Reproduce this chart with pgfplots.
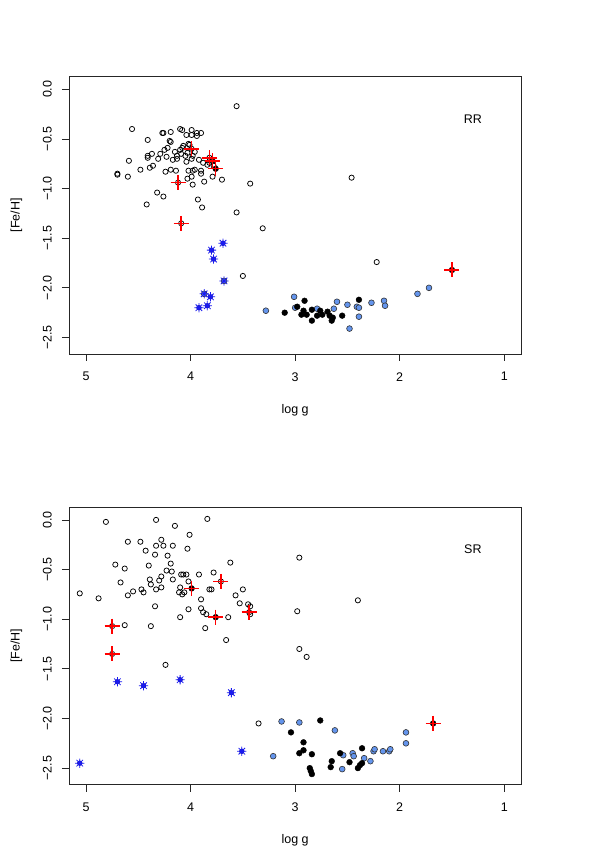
\documentclass[border=0pt]{standalone}
\usepackage{fontspec}
\setmainfont{Liberation Sans}
\usepackage{pgfplots}
\pgfplotsset{compat=1.18}
\definecolor{cCorn}{HTML}{6495ED}
\definecolor{cStar}{HTML}{1A1AF0}

% R-style asterisk (pch = 8): plus and cross together
\pgfdeclareplotmark{rstar}{%
  \pgfpathmoveto{\pgfpoint{-\pgfplotmarksize}{0pt}}%
  \pgfpathlineto{\pgfpoint{\pgfplotmarksize}{0pt}}%
  \pgfpathmoveto{\pgfpoint{0pt}{-\pgfplotmarksize}}%
  \pgfpathlineto{\pgfpoint{0pt}{\pgfplotmarksize}}%
  \pgfpathmoveto{\pgfpoint{-0.707\pgfplotmarksize}{-0.707\pgfplotmarksize}}%
  \pgfpathlineto{\pgfpoint{0.707\pgfplotmarksize}{0.707\pgfplotmarksize}}%
  \pgfpathmoveto{\pgfpoint{-0.707\pgfplotmarksize}{0.707\pgfplotmarksize}}%
  \pgfpathlineto{\pgfpoint{0.707\pgfplotmarksize}{-0.707\pgfplotmarksize}}%
  \pgfusepathqstroke}

\newcommand{\rfont}{\fontsize{12.5}{15}\selectfont}

\pgfplotsset{
  rpanel/.style={
    scale only axis,
    width=452.3pt, height=277.3pt,
    x dir=reverse,
    xmin=0.837, xmax=5.163,
    ymin=-2.666, ymax=0.127,
    clip=false,
    xtick={1,2,3,4,5},
    xticklabels={1,2,3,4,5},
    ytick={-2.5,-2,-1.5,-1,-0.5,0},
    yticklabels={−2.5,−2.0,−1.5,−1.0,−0.5,0.0},
    /pgf/number format/assume math mode=true,
    tick align=outside, tick pos=left,
    major tick length=7pt,
    axis line style={black!85, line width=0.8pt},
    every tick/.style={black!85, line width=0.8pt},
    tick label style={font=\rfont},
    label style={font=\rfont},
    xticklabel shift=7pt,
    yticklabel shift=6pt,
    yticklabel style={rotate=90, anchor=south},
    xlabel={log g}, ylabel={[Fe/H]},
    every axis x label/.style={at={(axis description cs:0.5,-0.165)}, anchor=north},
    every axis y label/.style={at={(axis description cs:-0.1161,0.5)}, anchor=center, rotate=90},
  },
  opencirc/.style={only marks, black, mark=o, mark size=2.6pt, mark options={black, line width=0.75pt}},
  blackcirc/.style={only marks, black, mark=*, mark size=2.9pt, mark options={black, fill=black}},
  bluecirc/.style={only marks, black, mark=*, mark size=2.9pt, mark options={draw=black!80, fill=cCorn, line width=0.6pt}},
  starcore/.style={only marks, cStar, mark=*, mark size=2.4pt, mark options={draw=cStar!70!black, fill=cStar, line width=0.5pt}},
  starmark/.style={only marks, cStar, line width=0.8pt, mark=rstar, mark size=4.6pt, mark options={draw=cStar, line width=0.8pt}},
  redplus/.style={only marks, red, line width=1.5pt, mark=+, mark size=7.5pt, mark options={draw=red, line width=1.5pt}},
}

\begin{document}
\rfont
\begin{tikzpicture}[x=1pt, y=1pt, font=\rfont]
\useasboundingbox (0,0) rectangle (598,862);

% ---------------- top panel (RR) ----------------
\begin{axis}[rpanel, at={(69pt,508pt)}, anchor=south west]
\addplot[opencirc] table {
3.56 -0.17
4.56 -0.40
4.41 -0.51
4.59 -0.72
4.70 -0.85
4.70 -0.86
4.60 -0.88
4.48 -0.81
4.41 -0.67
4.41 -0.69
4.37 -0.65
4.39 -0.79
4.36 -0.77
4.31 -0.70
4.27 -0.44
4.26 -0.44
4.19 -0.43
4.20 -0.52
4.19 -0.53
4.29 -0.65
4.25 -0.61
4.22 -0.59
4.23 -0.68
4.17 -0.71
4.13 -0.70
4.15 -0.63
4.24 -0.83
4.19 -0.81
4.14 -0.82
4.32 -1.04
4.26 -1.08
4.42 -1.16
4.10 -0.40
4.08 -0.41
4.04 -0.46
3.99 -0.41
3.94 -0.44
3.90 -0.44
3.94 -0.47
3.99 -0.46
4.02 -0.55
4.01 -0.56
4.07 -0.57
4.08 -0.59
4.10 -0.61
4.13 -0.67
4.09 -0.65
4.05 -0.67
4.03 -0.64
4.04 -0.73
3.99 -0.70
3.98 -0.67
3.96 -0.63
3.92 -0.71
3.88 -0.74
4.02 -0.82
3.98 -0.82
3.96 -0.81
3.90 -0.82
3.90 -0.85
4.03 -0.90
3.99 -0.88
3.98 -0.96
3.87 -0.93
3.79 -0.88
3.70 -0.91
3.93 -1.11
3.89 -1.19
3.43 -0.95
3.56 -1.24
3.31 -1.40
3.84 -0.76
3.82 -0.74
3.80 -0.72
3.78 -0.77
2.46 -0.89
2.22 -1.74
3.50 -1.88
3.99 -0.60
3.82 -0.69
3.79 -0.72
4.12 -0.94
4.09 -1.35
};
\addplot[bluecirc] table {
3.28 -2.23
3.01 -2.09
3.00 -2.20
2.79 -2.21
2.63 -2.21
2.60 -2.14
2.50 -2.17
2.41 -2.19
2.39 -2.20
2.39 -2.29
2.48 -2.41
2.27 -2.15
2.15 -2.13
2.14 -2.18
1.83 -2.06
1.72 -2.00
3.68 -1.93
3.87 -2.06
};
\addplot[blackcirc] table {
3.10 -2.25
2.91 -2.13
2.98 -2.19
2.92 -2.23
2.94 -2.27
2.89 -2.27
2.84 -2.22
2.84 -2.33
2.79 -2.28
2.76 -2.23
2.74 -2.27
2.69 -2.24
2.67 -2.28
2.65 -2.33
2.64 -2.30
2.55 -2.28
2.39 -2.12
3.76 -0.80
1.50 -1.82
};
\addplot[starcore] table {
3.69 -1.55
3.80 -1.62
3.78 -1.71
3.81 -2.09
3.92 -2.20
3.84 -2.18
};
\addplot[starmark] table {
3.69 -1.55
3.80 -1.62
3.78 -1.71
3.81 -2.09
3.92 -2.20
3.84 -2.18
3.68 -1.93
3.87 -2.06
};
\addplot[redplus] table {
3.99 -0.60
3.82 -0.69
3.79 -0.72
3.76 -0.80
4.12 -0.94
4.09 -1.35
1.50 -1.82
};
\node[font=\rfont] at (axis cs:1.30,-0.30) {RR};
\end{axis}

% ---------------- bottom panel (SR) ----------------
\begin{axis}[rpanel, at={(69pt,77.4pt)}, anchor=south west]
\addplot[opencirc] table {
5.06 -0.74
4.88 -0.79
4.81 -0.02
4.72 -0.45
4.63 -0.49
4.67 -0.63
4.60 -0.22
4.48 -0.22
4.43 -0.31
4.40 -0.46
4.60 -0.76
4.55 -0.72
4.47 -0.70
4.45 -0.73
4.39 -0.60
4.38 -0.65
4.33 0.00
4.33 -0.26
4.28 -0.20
4.26 -0.26
4.34 -0.35
4.22 -0.36
4.19 -0.44
4.30 -0.61
4.28 -0.57
4.23 -0.51
4.18 -0.52
4.33 -0.70
4.28 -0.68
4.34 -0.87
4.17 -0.26
4.15 -0.06
4.17 -0.60
4.01 -0.15
4.03 -0.29
3.84 0.01
4.09 -0.55
4.07 -0.55
4.04 -0.55
4.02 -0.62
4.10 -0.68
4.11 -0.73
4.08 -0.75
4.06 -0.73
3.92 -0.55
3.82 -0.70
3.80 -0.70
3.78 -0.53
3.90 -0.80
3.90 -0.89
3.88 -0.93
3.85 -0.95
4.02 -0.90
4.10 -0.98
4.38 -1.07
4.63 -1.06
3.86 -1.09
3.64 -0.98
3.62 -0.43
3.57 -0.76
3.53 -0.84
3.50 -0.70
3.45 -0.85
3.43 -0.87
3.43 -0.95
3.66 -1.21
4.24 -1.46
2.96 -0.38
2.98 -0.92
2.96 -1.30
2.89 -1.38
2.40 -0.81
3.35 -2.05
4.75 -1.07
4.75 -1.35
3.71 -0.62
3.44 -0.93
};
\addplot[bluecirc] table {
3.13 -2.03
2.96 -2.04
2.62 -2.12
3.21 -2.38
2.54 -2.37
2.55 -2.51
2.45 -2.35
2.44 -2.38
2.34 -2.40
2.28 -2.43
2.25 -2.33
2.24 -2.31
2.16 -2.33
2.10 -2.33
2.09 -2.31
1.94 -2.14
1.94 -2.25
};
\addplot[blackcirc] table {
2.76 -2.02
3.04 -2.14
2.92 -2.24
2.92 -2.32
2.96 -2.35
2.84 -2.36
2.86 -2.50
2.85 -2.53
2.84 -2.56
2.65 -2.43
2.66 -2.49
2.57 -2.35
2.48 -2.44
2.36 -2.30
2.40 -2.50
2.38 -2.47
2.36 -2.45
3.99 -0.69
3.76 -0.98
1.68 -2.05
};
\addplot[starcore] table {
4.70 -1.63
4.45 -1.67
4.10 -1.61
3.61 -1.74
5.06 -2.45
3.51 -2.33
};
\addplot[starmark] table {
4.70 -1.63
4.45 -1.67
4.10 -1.61
3.61 -1.74
5.06 -2.45
3.51 -2.33
};
\addplot[redplus] table {
4.75 -1.07
4.75 -1.35
3.99 -0.69
3.71 -0.62
3.76 -0.98
3.44 -0.93
1.68 -2.05
};
\node[font=\rfont] at (axis cs:1.30,-0.30) {SR};
\end{axis}
\end{tikzpicture}
\end{document}
